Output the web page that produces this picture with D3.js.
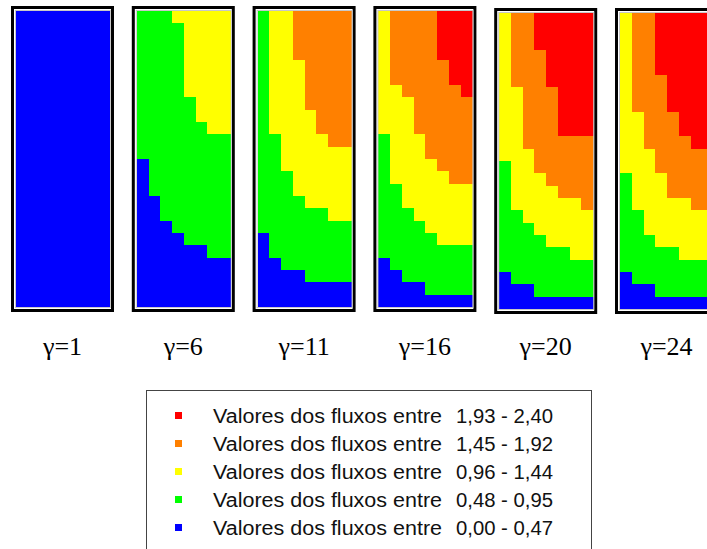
<!DOCTYPE html>
<html lang="pt">
<head>
<meta charset="UTF-8">
<title>Valores dos fluxos</title>
<style>
  body { margin: 0; background: #fff; }
  .panel-label { font-family: "Liberation Serif", "Times New Roman", serif; font-size: 26px; fill: #000; }
  .legend-text { font-family: "Liberation Sans", Arial, sans-serif; font-size: 20px; fill: #111; }
</style>
</head>
<body>
<svg id="chart" width="707" height="549"></svg>
<script src="https://d3js.org/d3.v7.min.js"></script>
<script>
// panel titles
const categories = ["γ=1", "γ=6", "γ=11", "γ=16", "γ=20", "γ=24"];

// class colours: 0 = lowest .. 4 = highest
const classColors = ["#0000ff", "#00ff00", "#ffff00", "#ff8000", "#ff0000"];
const legendRanges = ["0,00 - 0,47", "0,48 - 0,95", "0,96 - 1,44", "1,45 - 1,92", "1,93 - 2,40"];
const legendLabel = "Valores dos fluxos entre";

// class of every cell, 24 rows (top to bottom) x 8 columns
const gridG1 = Array(24).fill("00000000");
const gridG6 = [
  "11122222", "11112222", "11112222", "11112222", "11112222", "11112222",
  "11112222", "11111222", "11111222", "11111122", "11111111", "11111111",
  "01111111", "01111111", "01111111", "00111111", "00111111", "00011111",
  "00001111", "00000011", "00000000", "00000000", "00000000", "00000000"
];
const gridG11 = [
  "12233333", "12233333", "12233333", "12233333", "12223333", "12223333",
  "12223333", "12223333", "12222333", "12222333", "11222233", "11222222",
  "11222222", "11122222", "11122222", "11112222", "11111122", "11111111",
  "01111111", "01111111", "00111111", "00001111", "00000000", "00000000"
];
const gridG16 = [
  "23333444", "23333444", "23333444", "23333444", "23333344", "23333344",
  "22333334", "22233333", "22233333", "22233333", "12223333", "12223333",
  "12222333", "12222233", "11222222", "11222222", "11122222", "11112222",
  "11111222", "11111111", "01111111", "00111111", "00001111", "00000000"
];
const gridG20 = [
  "23344444", "23344444", "23344444", "23334444", "23334444", "23334444",
  "22333444", "22333444", "22333444", "22333444", "22333333", "22233333",
  "12233333", "12223333", "12222333", "12222223", "11222222", "11122222",
  "11112222", "11111122", "11111111", "01111111", "00011111", "00000000"
];
const gridG24 = [
  "23344444", "23344444", "23344444", "23344444", "23344444", "23334444",
  "23334444", "23334444", "22333444", "22333444", "22333344", "22233333",
  "22233333", "12223333", "12223333", "12222233", "11222222", "11222222",
  "11122222", "11111222", "11111111", "01111111", "00011111", "00000000"
];
const grids = [gridG1, gridG6, gridG11, gridG16, gridG20, gridG24];

const svg = d3.select("#chart");

// panel placement (last panel runs off the right edge)
const panelW = 103;
const panelScale = d3.scaleBand()
  .domain(categories)
  .range([11, 718])
  .paddingInner(1 - panelW / 120.8);
const panelTop = 6, panelH = 306, inset = 5;
const innerW = panelScale.bandwidth() - 2 * inset + 1;
const innerH = panelH - 2 * inset;

const colScale = d3.scaleBand().domain(d3.range(8)).range([0, innerW]);
const rowScale = d3.scaleBand().domain(d3.range(24)).range([0, innerH]);

categories.forEach((cat, i) => {
  const top = panelTop + (i >= 4 ? 2 : 0); // the last two frames sit a touch lower
  const g = svg.append("g").attr("transform", `translate(${panelScale(cat)},${top})`);

  // outer black frame
  g.append("rect")
    .attr("x", 1.5).attr("y", 1.5)
    .attr("width", panelScale.bandwidth() - 3).attr("height", panelH - 3)
    .attr("fill", "#fff").attr("stroke", "#000").attr("stroke-width", 3);

  const cells = [];
  grids[i].forEach((row, r) => {
    row.split("").forEach((c, k) => cells.push({ r, k, c: +c }));
  });

  const inner = g.append("g").attr("transform", `translate(${inset},${inset})`);
  inner.selectAll("rect.cell")
    .data(cells)
    .join("rect")
    .attr("class", "cell")
    .attr("x", d => colScale(d.k))
    .attr("y", d => rowScale(d.r))
    .attr("width", colScale.bandwidth() + 0.5)
    .attr("height", rowScale.bandwidth() + 0.5)
    .attr("fill", d => classColors[d.c])
    .attr("shape-rendering", "crispEdges");

  // thin grey edge round the cells
  inner.append("rect")
    .attr("x", -0.5).attr("y", -0.5)
    .attr("width", innerW + 1).attr("height", innerH + 1)
    .attr("fill", "none").attr("stroke", "#c8c8c8").attr("stroke-width", 1);

  svg.append("text")
    .attr("class", "panel-label")
    .attr("x", panelScale(cat) + panelScale.bandwidth() / 2)
    .attr("y", 355)
    .attr("text-anchor", "middle")
    .text(cat);
});

// legend
const legend = svg.append("g");
legend.append("rect")
  .attr("x", 146.5).attr("y", 390.5)
  .attr("width", 445).attr("height", 180)
  .attr("fill", "#fff").attr("stroke", "#444").attr("stroke-width", 1);

const legendY = d3.scalePoint().domain(d3.range(5)).range([528, 416]);

legendRanges.forEach((rng, i) => {
  const y = legendY(i);
  legend.append("rect")
    .attr("x", 175).attr("y", y - 4)
    .attr("width", 7).attr("height", 7)
    .attr("fill", classColors[i]);
  legend.append("text")
    .attr("class", "legend-text")
    .attr("x", 213).attr("y", y + 7)
    .attr("textLength", 229).attr("lengthAdjust", "spacingAndGlyphs")
    .text(legendLabel);
  legend.append("text")
    .attr("class", "legend-text")
    .attr("x", 456).attr("y", y + 7)
    .attr("textLength", 97).attr("lengthAdjust", "spacingAndGlyphs")
    .text(rng);
});
</script>
</body>
</html>
